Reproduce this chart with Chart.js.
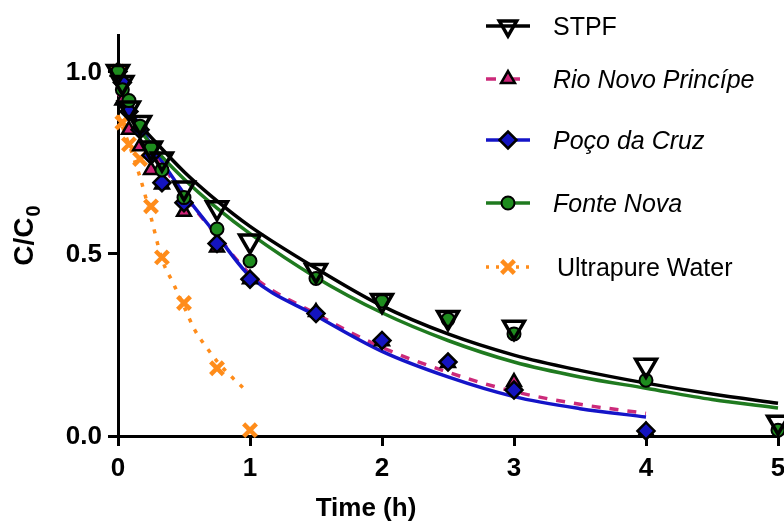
<!DOCTYPE html>
<html>
<head>
<meta charset="utf-8">
<script src="https://cdn.jsdelivr.net/npm/chart.js@4.4.0/dist/chart.umd.min.js"></script>
<style>
  html, body { margin: 0; padding: 0; background: #fff; }
  #wrap { width: 784px; height: 529px; }
</style>
</head>
<body>
<div id="wrap"><canvas id="grafico" width="784" height="529"></canvas></div>
<script>
// measured points (time in h, C/C0)
const tiempos = [0, 0.033, 0.083, 0.167, 0.25, 0.333, 0.5, 0.75, 1, 1.5, 2, 2.5, 3, 4, 5];
const stpf    = [1.0, 0.97, 0.90, 0.86, 0.79, 0.76, 0.68, 0.626, 0.535, 0.454, 0.372, 0.325, 0.298, 0.194, 0.038];
const rioNovo = [1.0, 0.92, 0.84, 0.795, 0.73, 0.69, 0.615, 0.517, 0.43, 0.34, 0.26, 0.20, 0.148, 0.014, null];
const pocoCruz = [1.0, 0.97, 0.89, 0.84, 0.77, 0.695, 0.64, 0.528, 0.43, 0.336, 0.262, 0.203, 0.126, 0.014, null];
const fonteNova = [1.0, 0.95, 0.92, 0.85, 0.79, 0.73, 0.654, 0.568, 0.48, 0.432, 0.37, 0.32, 0.28, 0.153, 0.016];
const tiemposUltra = [0, 0.033, 0.083, 0.167, 0.25, 0.333, 0.5, 0.75, 1];
const ultrapura = [1.0, 0.86, 0.80, 0.76, 0.63, 0.49, 0.365, 0.186, 0.016];

// fitted curves
const tAjuste = [0, 0.25, 0.5, 0.75, 1, 1.5, 2, 2.5, 3, 3.5, 4, 4.5, 5];
const stpfAjuste  = [0.92, 0.82, 0.725, 0.645, 0.575, 0.46, 0.357, 0.28, 0.222, 0.18, 0.145, 0.115, 0.09];
const fonteAjuste = [0.92, 0.80, 0.705, 0.625, 0.555, 0.435, 0.338, 0.262, 0.203, 0.162, 0.131, 0.10, 0.077];
const tAjuste4 = [0, 0.25, 0.5, 0.75, 1, 1.5, 2, 2.5, 3, 3.5, 4];
const pocoAjuste = [0.95, 0.80, 0.665, 0.55, 0.438, 0.33, 0.232, 0.162, 0.108, 0.075, 0.052];
const rioAjuste  = [0.94, 0.79, 0.66, 0.55, 0.445, 0.335, 0.243, 0.175, 0.122, 0.087, 0.062];
const tAjusteUltra = [0, 0.083, 0.167, 0.25, 0.333, 0.417, 0.5, 0.583, 0.667, 0.75, 0.833, 0.96];
const ultraAjuste  = [0.88, 0.80, 0.71, 0.60, 0.485, 0.42, 0.355, 0.29, 0.245, 0.205, 0.172, 0.128];

const nombres = ['STPF', 'Rio Novo Princípe', 'Poço da Cruz', 'Fonte Nova', 'Ultrapure Water'];
const ticksX = [0, 1, 2, 3, 4, 5];
const ticksY = [0, 0.5, 1.0];

const FUENTE = '"Liberation Sans", Arial, sans-serif';

function pares(xs, ys) {
  return xs.map((x, i) => ({ x: x, y: ys[i] }));
}

// marker + line styles per series
const estilos = [
  { linea: '#000000', dash: [], punto: 'triangle', rot: 180, radio: 12, relleno: 'rgba(255,255,255,0)', borde: '#000', bw: 3.5 },
  { linea: '#cc2a7a', dash: [9, 9], punto: 'triangle', rot: 0, radio: 8, relleno: '#cc2277', borde: '#000', bw: 2.5 },
  { linea: '#1414c8', dash: [], punto: 'rectRot', rot: 0, radio: 8.5, relleno: '#1414c0', borde: '#000', bw: 2.5 },
  { linea: '#1f7a1f', dash: [], punto: 'circle', rot: 0, radio: 6.5, relleno: '#1e8c1e', borde: '#000', bw: 2 },
  { linea: '#ff8c1a', dash: [4, 8], punto: 'crossRot', rot: 0, radio: 9, relleno: '#ff8c1a', borde: '#ff8c1a', bw: 4.5 }
];

function puntos(datos, e) {
  return {
    data: datos, showLine: false, clip: false,
    pointStyle: e.punto, rotation: e.rot, pointRadius: e.radio,
    pointBackgroundColor: e.relleno, pointBorderColor: e.borde, pointBorderWidth: e.bw,
    pointHoverRadius: e.radio
  };
}
function curva(datos, e) {
  return {
    data: datos, showLine: true, pointRadius: 0, borderColor: e.linea, borderWidth: 3.5,
    borderDash: e.dash, borderCapStyle: 'butt', cubicInterpolationMode: 'monotone', fill: false, clip: false
  };
}

// dataset 0 is drawn on top
const datasets = [
  puntos(pares(tiempos, stpf), estilos[0]),
  puntos(pares(tiempos, fonteNova), estilos[3]),
  puntos(pares(tiempos, pocoCruz), estilos[2]),
  puntos(pares(tiempos, rioNovo), estilos[1]),
  puntos(pares(tiemposUltra, ultrapura), estilos[4]),
  curva(pares(tAjuste, stpfAjuste), estilos[0]),
  curva(pares(tAjuste, fonteAjuste), estilos[3]),
  curva(pares(tAjuste4, pocoAjuste), estilos[2]),
  curva(pares(tAjuste4, rioAjuste), estilos[1]),
  curva(pares(tAjusteUltra, ultraAjuste), estilos[4])
];

const filasLeyenda = [26, 79, 140, 203, 267];

const leyenda = {
  id: 'leyendaLateral',
  afterDraw(chart) {
    const ctx = chart.ctx;
    const sx = chart.scales.x, sy = chart.scales.y;
    ctx.save();
    nombres.forEach((nombre, i) => {
      const e = estilos[i];
      const y = filasLeyenda[i];
      ctx.strokeStyle = e.linea;
      ctx.lineWidth = 3.5;
      ctx.lineCap = 'butt';
      ctx.setLineDash(e.dash.length ? (i === 4 ? [3, 7] : [10, 14]) : []);
      ctx.beginPath();
      ctx.moveTo(486, y);
      ctx.lineTo(530, y);
      ctx.stroke();
      ctx.setLineDash([]);
      ctx.fillStyle = e.relleno;
      ctx.strokeStyle = e.borde;
      ctx.lineWidth = e.bw;
      Chart.helpers.drawPoint(ctx, { pointStyle: e.punto, rotation: e.rot, radius: Math.min(e.radio, 10), borderWidth: e.bw }, 508, y);
      ctx.fillStyle = '#000';
      ctx.textBaseline = 'middle';
      ctx.textAlign = 'left';
      const italica = (i >= 1 && i <= 3) ? 'italic ' : '';
      ctx.font = italica + '25px ' + FUENTE;
      ctx.fillText(nombre, i === 4 ? 557 : 553, y + 2);
    });

    // tick labels
    ctx.fillStyle = '#000';
    ctx.font = 'bold 26px ' + FUENTE;
    ctx.textAlign = 'center';
    ctx.textBaseline = 'middle';
    ticksX.forEach(v => ctx.fillText(String(v), sx.getPixelForValue(v), 469));
    ctx.textAlign = 'right';
    ticksY.forEach(v => ctx.fillText(v.toFixed(1), 102, sy.getPixelForValue(v) + 1));

    // axis titles
    ctx.textAlign = 'center';
    ctx.font = 'bold 26px ' + FUENTE;
    ctx.fillText('Time (h)', 366, 509);

    ctx.translate(25, 236);
    ctx.rotate(-Math.PI / 2);
    ctx.font = 'bold 28px ' + FUENTE;
    const ancho = ctx.measureText('C/C').width;
    ctx.font = 'bold 20px ' + FUENTE;
    const anchoSub = ctx.measureText('0').width;
    const inicio = -(ancho + anchoSub) / 2;
    ctx.textAlign = 'left';
    ctx.font = 'bold 28px ' + FUENTE;
    ctx.fillText('C/C', inicio, 0);
    ctx.font = 'bold 20px ' + FUENTE;
    ctx.fillText('0', inicio + ancho + 1, 9);
    ctx.restore();
  }
};

new Chart(document.getElementById('grafico'), {
  type: 'scatter',
  data: { datasets: datasets },
  options: {
    responsive: false,
    animation: false,
    events: [],
    layout: { autoPadding: false, padding: { top: 35, right: 6, left: 0, bottom: 0 } },
    plugins: { legend: { display: false }, tooltip: { enabled: false } },
    scales: {
      x: {
        type: 'linear', min: 0, max: 5,
        afterBuildTicks: s => { s.ticks = ticksX.map(v => ({ value: v })); },
        afterFit: s => { s.height = 93; s.paddingLeft = 0; s.paddingRight = 0; },
        border: { color: '#000', width: 3 },
        grid: { drawOnChartArea: false, drawTicks: true, tickLength: 10, color: '#000', lineWidth: 3 },
        ticks: { display: false }
      },
      y: {
        type: 'linear', min: 0, max: 1.1,
        afterBuildTicks: s => { s.ticks = ticksY.map(v => ({ value: v })); },
        afterFit: s => { s.width = 118; s.paddingTop = 0; s.paddingBottom = 0; },
        border: { color: '#000', width: 3 },
        grid: { drawOnChartArea: false, drawTicks: true, tickLength: 10, color: '#000', lineWidth: 3 },
        ticks: { display: false }
      }
    }
  },
  plugins: [leyenda]
});
</script>
</body>
</html>
